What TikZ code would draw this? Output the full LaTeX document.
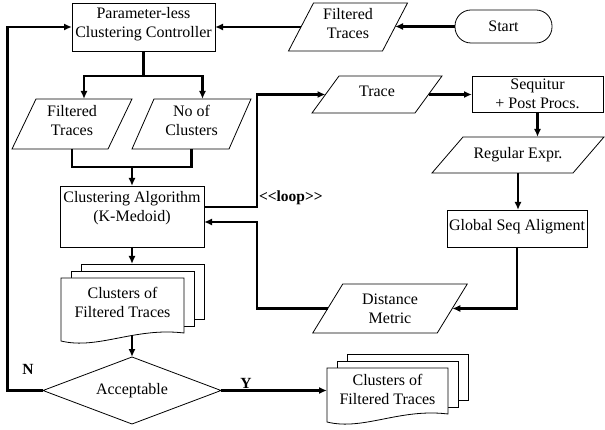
\documentclass[tikz,border=0pt]{standalone}
\usepackage{fontspec}
\setmainfont{Liberation Serif}
\usetikzlibrary{arrows.meta,shapes.geometric}

\tikzset{
  txt/.style={font=\fontsize{16}{19}\selectfont, align=center, inner sep=0pt, outer sep=0pt},
  raised/.style={text depth=#1},
  outline/.style={draw=black, line width=0.8pt},
  procbox/.style={txt, outline},
  para/.style={txt},
  term/.style={txt, outline, rounded corners=16pt},
  decision/.style={txt, outline, diamond, aspect=2.66},
  lblb/.style={txt, font=\fontsize{15.5}{19}\selectfont\bfseries},
  conn/.style={line width=2.1pt},
  arr/.style={conn, -{Latex[length=8pt,width=7pt]}}
}

% slanted data box drawn around a rectangle node: #1 node, #2 horizontal slant
\newcommand\paraline[2]{%
  \draw[outline] ([xshift=-#2/2]#1.south west) -- ([xshift=#2/2]#1.north west)
    -- ([xshift=#2/2]#1.north east) -- ([xshift=-#2/2]#1.south east) -- cycle;}

% stack of three documents: #1 name, #2 left x, #3 top y, #4 width,
% #5 height of right side, #6 text offset from top, #7 text
\newcommand\docstack[7]{%
  \draw[outline, fill=white] (#2+20,#3-14) rectangle (#2+#4+20,#3+#5-14);
  \draw[outline, fill=white] (#2+10,#3-7) rectangle (#2+#4+10,#3+#5-7);
  \draw[outline, fill=white] (#2,#3) -- (#2+#4,#3) -- (#2+#4,#3+#5)
    .. controls (#2+0.6*#4,#3+#5-6) and (#2+0.3*#4,#3+#5+17) .. (#2,#3+#5+8)
    coordinate[pos=0.38] (#1-wave) -- cycle;
  \coordinate (#1-top) at (#2+#4/2+20,#3-14);
  \coordinate (#1-west) at (#2,#3+#6);
  \node[txt] (#1) at (#2+#4/2,#3+#6) {#7};}

\begin{document}
\begin{tikzpicture}[x=1pt,y=-1pt]
\useasboundingbox (0,0) rectangle (605,430);

% top row
\node[procbox, raised=8.5pt, minimum width=143, minimum height=48] (ctrl) at (143.5,27) {Parameter-less\\Clustering Controller};
\node[para, raised=8pt, minimum width=94, minimum height=48] (ft0) at (348,27) {Filtered\\Traces};
\paraline{ft0}{25}
\node[term, minimum width=97, minimum height=33] (start) at (503.5,26.5) {Start};

% inputs of the clustering
\node[para, raised=7.5pt, minimum width=96, minimum height=50] (ft1) at (72,124) {Filtered\\Traces};
\paraline{ft1}{24}
\node[para, raised=7.5pt, minimum width=97, minimum height=50] (noc) at (191.5,124) {No of\\Clusters};
\paraline{noc}{22}
\node[procbox, raised=20pt, minimum width=144, minimum height=61] (alg) at (132,216.5) {Clustering Algorithm\\(K-Medoid)};

% distance pipeline
\node[para, raised=6pt, minimum width=103, minimum height=37] (trace) at (377,94.5) {Trace};
\paraline{trace}{27}
\node[procbox, minimum width=131, minimum height=36] (seq) at (537.5,94) {Sequitur\\+ Post Procs.};
\node[para, minimum width=141, minimum height=36] (regex) at (518,155) {Regular Expr.};
\paraline{regex}{31}
\node[procbox, raised=8pt, minimum width=140, minimum height=37] (glob) at (517,228.5) {Global Seq Aligment};
\node[para, minimum width=124.5, minimum height=49] (dist) at (390,308.5) {Distance\\Metric};
\paraline{dist}{30}

% results and decision
\docstack{csl}{61}{278}{123}{55}{24}{Clusters of\\Filtered Traces}
\node[decision, minimum width=178, minimum height=67] (acc) at (132,390.5) {Acceptable};
\docstack{csr}{327}{368}{121}{46}{21.5}{Clusters of\\Filtered Traces}

% labels
\node[lblb, anchor=west] (looplbl) at (259,198) {<\kern0pt<loop>\kern0pt>};
\node[lblb] (nlab) at (28,369) {N};
\node[lblb] (ylab) at (246,383) {Y};

% helper points
\coordinate (split) at (143.5,76);
\coordinate (merge) at (132,167);
\coordinate (back) at (7.5,390.5);
\coordinate (loopc) at (257,207);
\coordinate (distc) at (257,308.5);

% connectors
\draw[arr] (start.west) -- (start.west -| ft0.east);
\draw[arr] (ft0.west) -- (ft0.west -| ctrl.east);
\draw[conn] (ctrl.south) -- (split);
\draw[arr] (split) -| ([xshift=12]ft1.north);
\draw[arr] (split) -| ([xshift=11]noc.north);
\draw[conn] (ft1.south) |- (merge);
\draw[conn] (noc.south) |- (merge);
\draw[arr] (merge) -- (alg.north);
\draw[arr] (alg.south) -- (alg.south |- csl-top);
\draw[arr] (acc.north |- csl-wave) -- (acc.north);
\draw[arr] (acc.west) -- (back) |- (ctrl.west);
\draw[arr] (acc.east) -- (acc.east -| csr-west);
\draw[arr] ([yshift=9.5]alg.east) -- (loopc) |- (trace.west);
\draw[arr] (trace.east) -- (trace.east -| seq.west);
\draw[arr] (seq.south) -- (seq.south |- regex.north);
\draw[arr] (regex.south) -- (regex.south |- glob.north);
\draw[arr] (glob.south) |- (dist.east);
\draw[arr] (dist.west) -- (distc) |- ([yshift=-5.5]alg.east);
\end{tikzpicture}
\end{document}
